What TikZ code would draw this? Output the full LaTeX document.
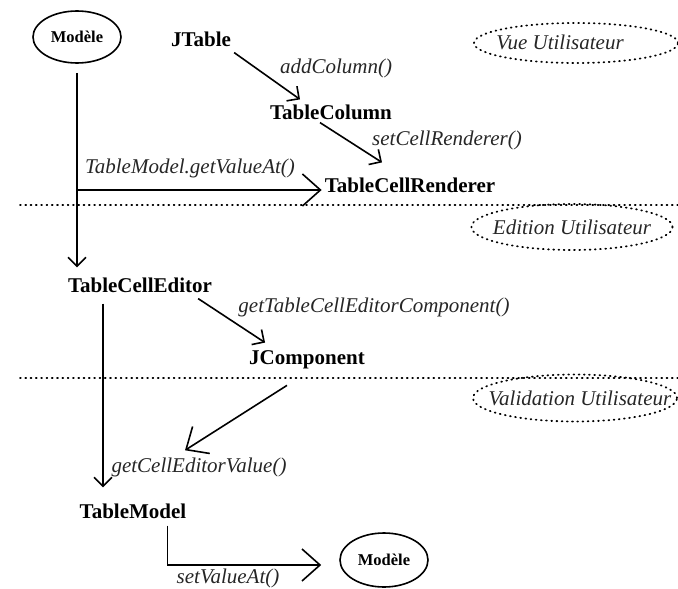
\documentclass[tikz,border=0pt]{standalone}
\usepackage{fontspec}
\setmainfont{Liberation Serif}
\usetikzlibrary{shapes.geometric,arrows.meta,positioning}

\begin{document}
\begin{tikzpicture}[x=1pt, y=-1pt,
    cls/.style={inner sep=3pt, font=\bfseries\fontsize{21}{25}\selectfont},
    meth/.style={inner sep=1pt, text=black!85, font=\itshape\fontsize{21}{25}\selectfont},
    model/.style={ellipse, draw, line width=1.6pt, minimum width=88pt, minimum height=52pt, inner sep=0pt, font=\bfseries\fontsize{16.5}{20}\selectfont},
    zone/.style={ellipse, draw, line width=1.8pt, line cap=round, dash pattern=on 0.8pt off 4.4pt, inner sep=0pt},
    zonetext/.style={inner sep=0pt, text=black!85, font=\itshape\fontsize{21}{25}\selectfont},
    sep/.style={line width=1.8pt, line cap=round, dash pattern=on 0.8pt off 4.5pt},
    arrow/.style={-{Straight Barb[length=9pt,width=18pt]}, line width=1.6pt},
    bigarrow/.style={-{Straight Barb[length=18pt,width=32pt]}, line width=1.6pt}
]
\useasboundingbox (0,0) rectangle (678,589);

% classes
\node[model] (modeleA) at (77,37) {Modèle};
\node[cls] (jtable) at (201,39) {JTable};
\node[cls] (tcol) at (331,112) {TableColumn};
\node[cls] (renderer) at (410,185) {TableCellRenderer};
\node[cls] (editor) at (140,285) {TableCellEditor};
\node[cls] (jcomp) at (307,360) {JComponent};
\node[cls] (tmodel) at (133,511) {TableModel};
\node[model, minimum height=54pt] (modeleB) at (384,560) {Modèle};

% zones
\node[zone, minimum width=204pt, minimum height=40pt] (vue) at (576,43) {};
\node[zonetext] at (560,42) {Vue Utilisateur};
\node[zone, minimum width=201pt, minimum height=46pt] (edition) at (572,227) {};
\node[zonetext] at (edition) {Edition Utilisateur};
\node[zone, minimum width=204pt, minimum height=47pt] (valid) at (575,398) {};
\node[zonetext] at (580,398) {Validation Utilisateur};

\draw[sep] (20,205) -- (678,205);
\draw[sep] (20,378) -- (678,378);

% methods
\node[meth] (addcol) at (336,68) {addColumn()};
\node[meth] (setcr) at (447,140) {setCellRenderer()};
\node[meth] (getva) at (190,168) {TableModel.getValueAt()};
\node[meth] (gettce) at (374,307) {getTableCellEditorComponent()};
\node[meth] (getcev) at (199,467) {getCellEditorValue()};
\node[meth] (setva) at (228,578) {setValueAt()};

% arrows
\draw[arrow, shorten <=9pt, shorten >=7pt] (modeleA.south) -- (modeleA.south |- editor.north);
\draw[bigarrow] ([yshift=-5pt]modeleA.south |- renderer.west) -- ([yshift=-5pt]renderer.west);
\draw[arrow] ([yshift=-3pt]jtable.south east) -- ([xshift=-31pt,yshift=2pt]tcol.north);
\draw[arrow] ([xshift=-11pt]tcol.south) -- ([xshift=-28pt,yshift=12pt]renderer.north);
\draw[arrow] ([xshift=-17pt,yshift=-3pt]editor.south east) -- ([xshift=19pt,yshift=5pt]jcomp.north west);
\coordinate (edown) at ([xshift=-37pt,yshift=-8pt]editor.south);
\draw[arrow, shorten >=13pt] (edown) -- (edown |- tmodel.north);
\draw[bigarrow] ([xshift=-20pt,yshift=-13pt]jcomp.south) -- ([xshift=-14pt,yshift=6pt]getcev.north);
\draw[bigarrow] ([xshift=-22pt,yshift=-4pt]tmodel.south east) |- ([xshift=-18pt,yshift=-5pt]modeleB.west);
\end{tikzpicture}
\end{document}
